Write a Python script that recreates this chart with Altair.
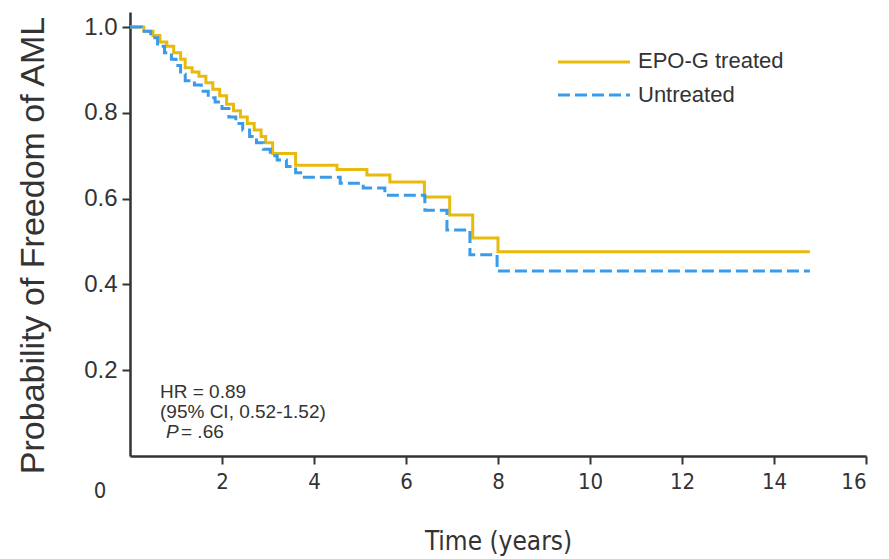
import altair as alt
import pandas as pd

# ---- data ----
groups = ["EPO-G treated", "Untreated"]
colors = ["#E8BA0C", "#3A9BE8"]

treated_time = [0, 0.3, 0.5, 0.65, 0.8, 0.95, 1.1, 1.2, 1.35, 1.5, 1.65, 1.8, 1.95,
                2.1, 2.25, 2.4, 2.55, 2.7, 2.85, 2.95, 3.1, 3.6, 4.5, 5.15, 5.65,
                6.4, 6.95, 7.45, 8.0, 14.78]
treated_surv = [1.0, 0.99, 0.98, 0.965, 0.955, 0.94, 0.925, 0.905, 0.895, 0.885, 0.87,
                0.855, 0.84, 0.82, 0.805, 0.79, 0.775, 0.76, 0.745, 0.73, 0.705, 0.678,
                0.668, 0.655, 0.639, 0.604, 0.562, 0.508, 0.476, 0.476]

untreated_time = [0, 0.25, 0.45, 0.6, 0.75, 0.9, 1.0, 1.1, 1.2, 1.4, 1.55, 1.7, 1.85,
                  2.0, 2.15, 2.3, 2.45, 2.6, 2.75, 2.9, 3.05, 3.2, 3.4, 3.6, 3.75,
                  4.57, 5.07, 5.54, 6.41, 6.89, 7.39, 7.98, 14.78]
untreated_surv = [1.0, 0.99, 0.975, 0.955, 0.94, 0.925, 0.91, 0.89, 0.875, 0.865, 0.85,
                  0.835, 0.825, 0.81, 0.79, 0.775, 0.76, 0.745, 0.73, 0.715, 0.70, 0.69,
                  0.675, 0.66, 0.65, 0.636, 0.625, 0.608, 0.573, 0.527, 0.469, 0.431, 0.431]

x_ticks = [2, 4, 6, 8, 10, 12, 14, 16]
y_ticks = [0.2, 0.4, 0.6, 0.8, 1.0]
annot_lines = ["HR = 0.89", "(95% CI, 0.52-1.52)"]
p_label = ["P"]
p_value = ["= .66"]
origin_label = ["0"]

df = pd.concat([
    pd.DataFrame({"time": treated_time, "surv": treated_surv, "group": groups[0]}),
    pd.DataFrame({"time": untreated_time, "surv": untreated_surv, "group": groups[1]}),
])

SANS = "'Liberation Sans', Arial, sans-serif"
NARROW = "'DejaVu Sans Condensed', sans-serif"
INK = "#333333"

xscale = alt.Scale(domain=[0, 16], nice=False, zero=False)
yscale = alt.Scale(domain=[0, 1.035], nice=False, zero=False)

curves = alt.Chart(df).mark_line(interpolate="step-after", strokeWidth=3).encode(
    x=alt.X("time:Q", scale=xscale, axis=alt.Axis(
        values=x_ticks, title="Time (years)", labelFont=NARROW, labelFontSize=22,
        labelColor=INK, labelPadding=7, tickSize=8, tickWidth=2, tickColor=INK,
        domainWidth=2.5, domainColor=INK, grid=False,
        titleFont=NARROW, titleFontSize=26, titleFontWeight="normal", titleColor=INK,
        titleY=93, titleBaseline="alphabetic")),
    y=alt.Y("surv:Q", scale=yscale, axis=alt.Axis(
        values=y_ticks, format=".1f", title="Probability of Freedom of AML",
        labelFont=SANS, labelFontSize=24, labelColor=INK, labelPadding=5,
        tickSize=8, tickWidth=2, tickColor=INK, domainWidth=2.5, domainColor=INK,
        grid=False, titleFont=SANS, titleFontSize=34, titleFontWeight="normal",
        titleColor=INK, titleX=-97, titleY=233, titleAlign="center",
        titleBaseline="middle", titleAngle=270)),
    color=alt.Color("group:N", scale=alt.Scale(domain=groups, range=colors), legend=None),
    strokeDash=alt.StrokeDash("group:N", scale=alt.Scale(domain=groups, range=[[1, 0], [12, 5]]),
                              legend=None),
)

# legend (manual)
leg_rule1 = alt.Chart(pd.DataFrame({"g": [groups[0]]})).mark_rule(
    color=colors[0], strokeWidth=3).encode(x=alt.value(428), x2=alt.value(500), y=alt.value(50))
leg_rule2 = alt.Chart(pd.DataFrame({"g": [groups[1]]})).mark_rule(
    color=colors[1], strokeWidth=3, strokeDash=[12, 5]).encode(
    x=alt.value(428), x2=alt.value(500), y=alt.value(83))
leg_text1 = alt.Chart(pd.DataFrame({"g": [groups[0]]})).mark_text(
    align="left", baseline="middle", font=SANS, fontSize=22, color=INK).encode(
    x=alt.value(508), y=alt.value(49), text="g:N")
leg_text2 = alt.Chart(pd.DataFrame({"g": [groups[1]]})).mark_text(
    align="left", baseline="middle", font=SANS, fontSize=22, color=INK).encode(
    x=alt.value(508), y=alt.value(83), text="g:N")

# annotation
ANN = 19
ann1 = alt.Chart(pd.DataFrame({"t": [annot_lines[0]]})).mark_text(
    align="left", baseline="middle", font=SANS, fontSize=ANN, color=INK).encode(
    x=alt.value(30), y=alt.value(380), text="t:N")
ann2 = alt.Chart(pd.DataFrame({"t": [annot_lines[1]]})).mark_text(
    align="left", baseline="middle", font=SANS, fontSize=ANN, color=INK).encode(
    x=alt.value(30), y=alt.value(400), text="t:N")
ann3 = alt.Chart(pd.DataFrame({"t": p_label})).mark_text(
    align="left", baseline="middle", font=SANS, fontSize=ANN, fontStyle="italic", color=INK).encode(
    x=alt.value(36), y=alt.value(420), text="t:N")
ann4 = alt.Chart(pd.DataFrame({"t": p_value})).mark_text(
    align="left", baseline="middle", font=SANS, fontSize=ANN, color=INK).encode(
    x=alt.value(51), y=alt.value(420), text="t:N")

origin = alt.Chart(pd.DataFrame({"t": origin_label})).mark_text(
    align="center", baseline="middle", font=NARROW, fontSize=22, color=INK).encode(
    x=alt.value(-30), y=alt.value(479), text="t:N")

chart = alt.layer(
    curves, leg_rule1, leg_rule2, leg_text1, leg_text2, ann1, ann2, ann3, ann4, origin
).properties(
    width=736, height=444,
    autosize=alt.AutoSizeParams(type="none"),
    padding={"left": 130, "top": 12, "right": 23, "bottom": 103},
    background="white",
).configure_view(stroke=None)

chart.save("out.html", embed_options={"renderer": "svg", "actions": False})
